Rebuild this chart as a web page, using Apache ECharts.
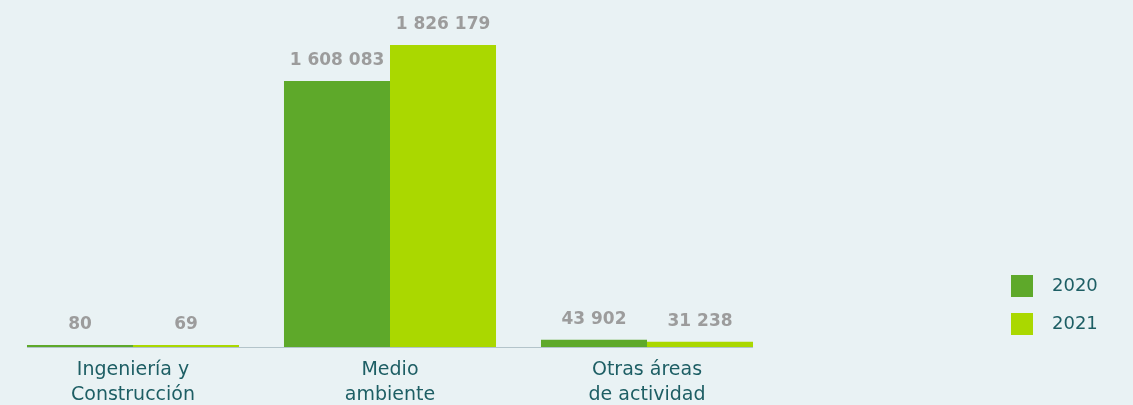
<!DOCTYPE html>
<html><head><meta charset="utf-8">
<script src="https://cdn.jsdelivr.net/npm/echarts@6/dist/echarts.min.js"></script>
<style>html,body{margin:0;padding:0;background:#e9f2f4;}#c{width:1133px;height:405px;}</style>
</head><body><div id="c"></div>
<script>
const categories = ['Ingeniería y\nConstrucción', 'Medio\nambiente', 'Otras áreas\nde actividad'];
const seriesNames = ['2020', '2021'];
const values2020 = [80, 1608083, 43902];
const values2021 = [69, 1826179, 31238];
const colors = ['#5ea92a', '#aad800'];

function fmt(v){ return String(v).replace(/\B(?=(\d{3})+(?!\d))/g, ' '); }

const chart = echarts.init(document.getElementById('c'));
const labelStyle = {show:true, position:'top', distance:12, color:'#9c9c9c', fontWeight:'bold', fontSize:17, fontFamily:'DejaVu Sans', formatter:p=>fmt(p.value)};
chart.setOption({
  backgroundColor:'#e9f2f4',
  animation:false,
  grid:{left:4.5, right:1133-775.5, top:0, bottom:58, containLabel:false, outerBoundsMode:'none'},
  legend:{orient:'vertical', left:1006, top:270, itemWidth:22, itemHeight:22, itemGap:16, icon:'rect',
    textStyle:{color:'#1d5e64', fontSize:18, fontFamily:'DejaVu Sans', padding:[0,0,0,14]}, data:seriesNames},
  xAxis:{type:'category', data:categories, axisLine:{show:false}, axisTick:{show:false},
    axisLabel:{color:'#1d5e64', fontSize:19, fontFamily:'DejaVu Sans', lineHeight:25, margin:11, interval:0}},
  yAxis:{type:'value', min:0, max:2098000, show:false, splitLine:{show:false}},
  graphic:[{type:'line', shape:{x1:27, y1:347.5, x2:753, y2:347.5}, style:{stroke:'#b3c4ca', lineWidth:1}, z:0}],
  series:[
    {name:seriesNames[0], type:'bar', data:values2020, barGap:'0%', barCategoryGap:'17.5%', barMinHeight:2, itemStyle:{color:colors[0]}, label:labelStyle, z:5},
    {name:seriesNames[1], type:'bar', data:values2021, barGap:'0%', barCategoryGap:'17.5%', barMinHeight:2, itemStyle:{color:colors[1]}, label:labelStyle, z:5}
  ]
});
</script></body></html>
